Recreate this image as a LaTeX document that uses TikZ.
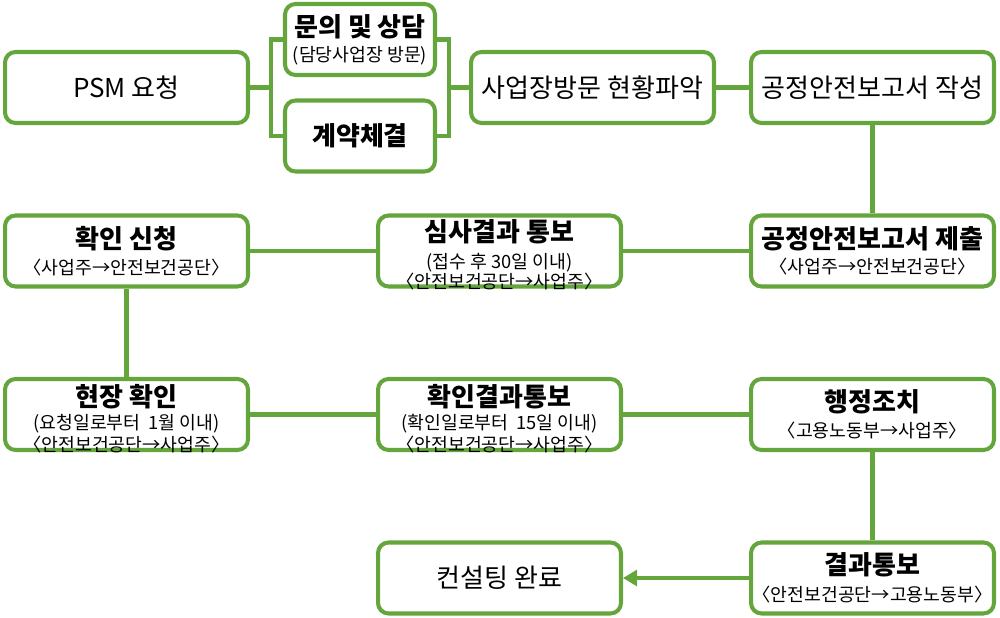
\documentclass[tikz,border=0pt]{standalone}
\usepackage{fontspec}
\setmainfont{Noto Sans CJK KR}
\usetikzlibrary{arrows.meta}
\definecolor{boxgreen}{RGB}{100,165,60}
\newcommand\subtxt[1]{{\fontsize{10.4}{11.3}\selectfont #1}}
\newcommand\tightlines{\lineskiplimit=-100pt\relax}
\newcommand\toppad{\rule{0pt}{17pt}}

\begin{document}
\begin{tikzpicture}[x=0.02cm,y=-0.02cm,
  box/.style={draw=boxgreen,line width=2.3pt,rounded corners=6pt,fill=white,
    minimum width=4.86cm,minimum height=1.42cm,inner xsep=0pt,inner ysep=-3pt,align=center,
    font=\fontsize{14.8}{11.3}\selectfont\tightlines},
  smallbox/.style={box,minimum width=3cm},
  link/.style={boxgreen,line width=2.3pt}]

\useasboundingbox (0,0) rectangle (1000,618);

\node[box] (psm) at (126.5,87.5) {PSM 요청};
\node[smallbox] (ask) at (360,39.5) {{\bfseries 문의 및 상담}\\[2.9pt] \subtxt{(담당사업장 방문)}};
\node[smallbox] (deal) at (360,136) {\bfseries 계약체결};
\node[box] (visit) at (592.5,87.5) {사업장방문 현황파악};
\node[box] (write) at (872.5,87.5) {공정안전보고서 작성};

\node[box] (submit) at (872.5,251) {{\bfseries 공정안전보고서 제출}\\[3.2pt] \subtxt{〈사업주→안전보건공단〉}};
\node[box] (review) at (499.5,251) {\toppad{\bfseries 심사결과 통보}\\[3.8pt] \subtxt{(접수 후 30일 이내)}\\ \subtxt{〈안전보건공단→사업주〉}};
\node[box] (apply) at (126.5,251) {{\bfseries 확인 신청}\\[3.2pt] \subtxt{〈사업주→안전보건공단〉}};

\node[box] (site) at (126.5,414.5) {\toppad{\bfseries 현장 확인}\\[1.8pt] \subtxt{(요청일로부터~~1월 이내)}\\[1.2pt] \subtxt{〈안전보건공단→사업주〉}};
\node[box] (check) at (499.5,414.5) {\toppad{\bfseries 확인결과통보}\\[1.8pt] \subtxt{(확인일로부터~~15일 이내)}\\[1.2pt] \subtxt{〈안전보건공단→사업주〉}};
\node[box] (action) at (872.5,414.5) {{\bfseries 행정조치}\\[3.8pt] \subtxt{〈고용노동부→사업주〉}};

\node[box] (notify) at (872.5,578) {{\bfseries 결과통보}\\[3.8pt] \subtxt{〈안전보건공단→고용노동부〉}};
\node[box] (done) at (499.5,578) {컨설팅 완료};

\draw[link] (psm.east) -- ++(21,0) coordinate (bl);
\draw[link] (ask.west) -| (bl) |- (deal.west);
\draw[link] (visit.west) -- ++(-20,0) coordinate (br);
\draw[link] (ask.east) -| (br) |- (deal.east);

\draw[link] (visit) -- (write);
\draw[link] (write) -- (submit);
\draw[link] (submit) -- (review);
\draw[link] (review) -- (apply);
\draw[link] (apply) -- (site);
\draw[link] (site) -- (check);
\draw[link] (check) -- (action);
\draw[link] (action) -- (notify);
\draw[link,-{Triangle[length=8pt,width=9pt]}] (notify) -- (done);

\end{tikzpicture}
\end{document}
